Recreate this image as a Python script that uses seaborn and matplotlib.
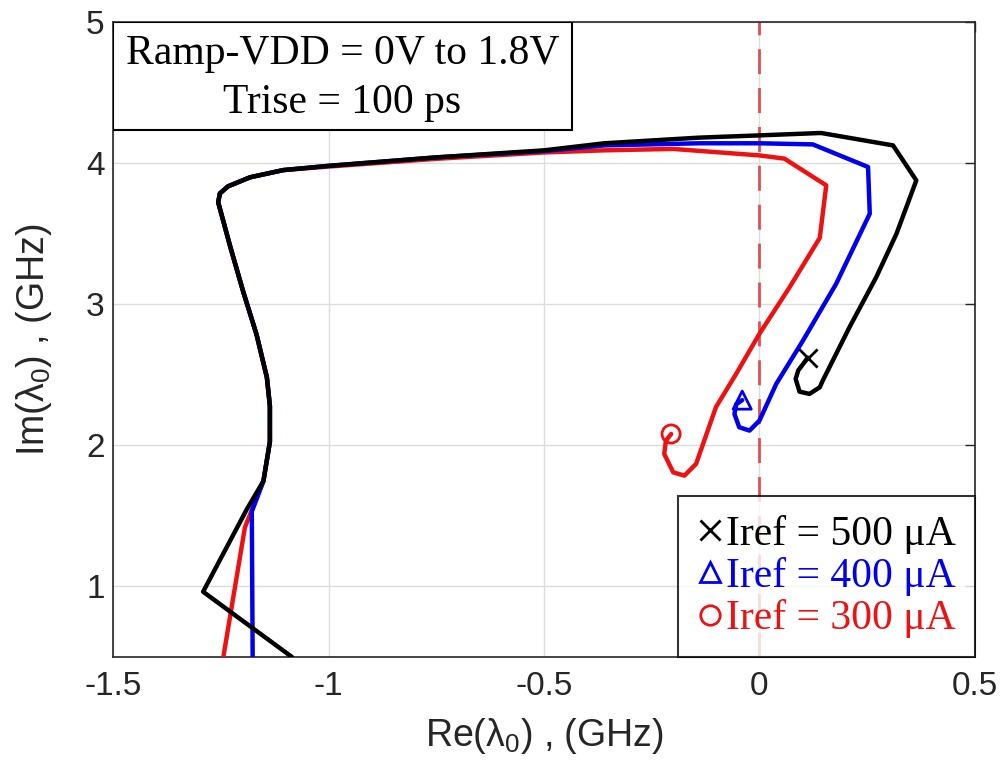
import numpy as np
import pandas as pd
import matplotlib
matplotlib.use("Agg")
import matplotlib.pyplot as plt
from matplotlib.lines import Line2D
from matplotlib.patches import Rectangle
import seaborn as sns

# Dades llegides del gràfic (Re i Im de lambda_0, en GHz)
re_500 = [-1.085, -1.291, -1.190, -1.151, -1.136, -1.136, -1.143, -1.167, -1.198, -1.229,
          -1.256, -1.252, -1.233, -1.182, -1.105, -1.000, -0.750, -0.500, -0.360, -0.140,
          0.000, 0.143, 0.310, 0.364, 0.318, 0.271, 0.209, 0.147, 0.140, 0.116,
          0.093, 0.084, 0.090, 0.112]
im_500 = [0.50, 0.962, 1.544, 1.747, 2.025, 2.278, 2.481, 2.785, 3.089, 3.418,
          3.722, 3.785, 3.835, 3.899, 3.950, 3.980, 4.040, 4.090, 4.140, 4.180,
          4.196, 4.213, 4.125, 3.877, 3.499, 3.191, 2.837, 2.459, 2.411, 2.364,
          2.380, 2.470, 2.530, 2.620]

re_400 = [-1.176, -1.178, -1.151, -1.136, -1.136, -1.143, -1.167, -1.198, -1.229,
          -1.256, -1.252, -1.233, -1.182, -1.105, -1.000, -0.750, -0.500, -0.360, -0.140,
          0.000, 0.124, 0.252, 0.256, 0.178, 0.101, 0.039, 0.000, -0.023,
          -0.047, -0.058, -0.054, -0.040]
im_400 = [0.50, 1.530, 1.747, 2.025, 2.278, 2.481, 2.785, 3.089, 3.418,
          3.722, 3.785, 3.835, 3.899, 3.950, 3.980, 4.040, 4.085, 4.125, 4.140,
          4.140, 4.132, 3.972, 3.641, 3.144, 2.742, 2.435, 2.175, 2.104,
          2.128, 2.222, 2.290, 2.320]

re_300 = [-1.244, -1.194, -1.151, -1.136, -1.136, -1.143, -1.167, -1.198, -1.229,
          -1.256, -1.252, -1.233, -1.182, -1.105, -1.000, -0.750, -0.500, -0.360, -0.200,
          0.000, 0.058, 0.155, 0.140, 0.070, 0.000, -0.054, -0.101, -0.147,
          -0.174, -0.200, -0.221, -0.217, -0.205]
im_300 = [0.50, 1.418, 1.747, 2.025, 2.278, 2.481, 2.785, 3.089, 3.418,
          3.722, 3.785, 3.835, 3.899, 3.950, 3.975, 4.030, 4.075, 4.090, 4.100,
          4.054, 4.031, 3.842, 3.470, 3.120, 2.790, 2.506, 2.270, 1.868,
          1.785, 1.808, 1.939, 2.033, 2.080]

labels = ["Iref = 500 μA", "Iref = 400 μA", "Iref = 300 μA"]
colors = ["#000000", "#0000ee", "#ee1111"]
markers = ["x", "^", "o"]

# Muntem el dataframe llarg per seaborn
frames = []
for lab, xs, ys in zip(labels, [re_500, re_400, re_300], [im_500, im_400, im_300]):
    frames.append(pd.DataFrame({"re": xs, "im": ys, "serie": lab}))
df = pd.concat(frames, ignore_index=True)

sns.set_style("whitegrid")
plt.rcParams["font.family"] = ["Liberation Sans", "DejaVu Sans"]
plt.rcParams["mathtext.fontset"] = "custom"
plt.rcParams["mathtext.rm"] = "Liberation Sans"
plt.rcParams["mathtext.it"] = "Liberation Sans"
plt.rcParams["mathtext.default"] = "regular"

fig = plt.figure(figsize=(10.03, 7.83), dpi=100)
ax = fig.add_axes([0.1127, 0.161, 0.8593, 0.811])

# Línia vertical discontínua a Re = 0
ax.axvline(0, color="#e05050", lw=2, ls=(0, (9, 5)), zorder=1)

# Dibuixem les corbes (el negre a sobre)
for lab, col in zip(labels[::-1], colors[::-1]):
    sub = df[df["serie"] == lab]
    sns.lineplot(data=sub, x="re", y="im", sort=False, estimator=None,
                 color=col, lw=3.2, ax=ax, legend=False, zorder=3)

# Marcadors al final de cada corba
for lab, col, mk in zip(labels, colors, markers):
    sub = df[df["serie"] == lab].iloc[[-1]]
    sns.scatterplot(data=sub, x="re", y="im", marker=mk, s=170,
                    facecolors="none" if mk != "x" else col,
                    edgecolors=col, color=col, linewidths=2, ax=ax,
                    legend=False, zorder=4)

ax.set_xlim(-1.5, 0.5)
ax.set_ylim(0.5, 5)
ax.set_xticks([-1.5, -1, -0.5, 0, 0.5])
ax.set_xticklabels(["-1.5", "-1", "-0.5", "0", "0.5"])
ax.set_yticks([1, 2, 3, 4, 5])
ax.grid(True, color="#dcdcdc", lw=1)
ax.tick_params(direction="in", length=7, width=1, labelsize=24, colors="#262626",
               top=True, right=True, pad=10)
ax.tick_params(axis="y", pad=6)
for sp in ax.spines.values():
    sp.set_color("#262626")
    sp.set_linewidth(1.2)

ax.set_xlabel(r"Re($\lambda_0$) , (GHz)", fontsize=27, color="#262626", labelpad=10)
ax.set_ylabel(r"Im($\lambda_0$) , (GHz)", fontsize=27, color="#262626")
ax.yaxis.set_label_coords(-0.068, 0.5)

# Quadre de text amb les condicions
ax.add_patch(Rectangle((0, 0.83), 0.532, 0.17, transform=ax.transAxes,
                       facecolor="white", edgecolor="black", lw=1.5, zorder=5))
ax.text(0.266, 0.95, "Ramp-VDD = 0V to 1.8V", transform=ax.transAxes,
        ha="center", va="center", fontsize=30, color="black",
        family="Liberation Serif", zorder=6)
ax.text(0.266, 0.872, "Trise = 100 ps", transform=ax.transAxes,
        ha="center", va="center", fontsize=30, color="black",
        family="Liberation Serif", zorder=6)

# Llegenda amb només marcadors
handles = [Line2D([], [], ls="none", marker=mk, color=col, markersize=14,
                  markerfacecolor="none" if mk != "x" else col, markeredgewidth=2)
           for mk, col in zip(markers, colors)]
leg = ax.legend(handles, labels, loc="lower right", frameon=True, fancybox=False,
                prop={"family": "Liberation Serif", "size": 30},
                handlelength=0.6, handletextpad=0.1, borderpad=0.45,
                labelspacing=0.08, borderaxespad=0, labelcolor=colors)
leg.get_frame().set_edgecolor("black")
leg.get_frame().set_linewidth(1.5)
leg.set_zorder(6)

fig.savefig("out.png", dpi=100)
